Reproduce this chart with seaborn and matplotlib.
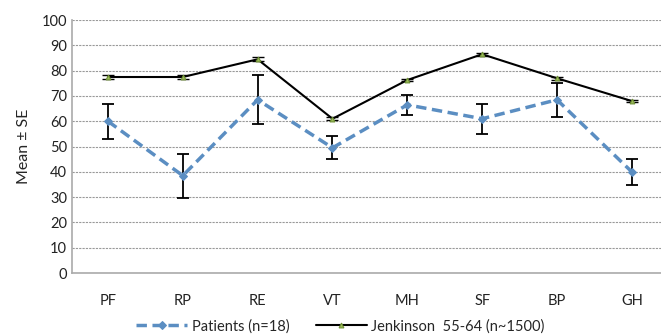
import numpy as np
import pandas as pd
import seaborn as sns
import matplotlib.pyplot as plt

# SF-36 domains
domains = ['PF', 'RP', 'RE', 'VT', 'MH', 'SF', 'BP', 'GH']

# Patients (n=18): mean and SE
patients_mean = [60, 38.5, 68.5, 49.5, 66.5, 61, 68.5, 40]
patients_se = [7, 8.7, 9.7, 4.5, 4, 6, 6.8, 5.2]

# Jenkinson norms 55-64
jenk_mean = [77.5, 77.5, 84.5, 61, 76.3, 86.5, 77, 68]
jenk_se = [0.6, 0.8, 0.8, 0.6, 0.5, 0.6, 0.6, 0.5]

df = pd.DataFrame({
    'Domain': domains * 2,
    'Mean': patients_mean + jenk_mean,
    'Group': ['Patients (n=18)'] * 8 + ['Jenkinson  55-64 (n~1500)'] * 8,
})
df['x'] = np.tile(np.arange(len(domains)), 2)

sns.set_style('white')
plt.rcParams['font.family'] = ['Lato', 'DejaVu Sans']

fig = plt.figure(figsize=(6.61, 3.35), dpi=100)
ax = fig.add_axes([0.109, 0.185, 0.891, 0.755])

blue = '#5B8EC2'
x = np.arange(len(domains))

# error bars first
ax.errorbar(x, patients_mean, yerr=patients_se, fmt='none', ecolor='black',
            elinewidth=1.3, capsize=4, capthick=1.3, zorder=2)
ax.errorbar(x, jenk_mean, yerr=jenk_se, fmt='none', ecolor='black',
            elinewidth=1.0, capsize=4, capthick=1.0, zorder=2)

sns.lineplot(data=df[df['Group'] == 'Patients (n=18)'], x='x', y='Mean', ax=ax,
             color=blue, linewidth=2.5, linestyle=(0, (3, 1.6)), marker='D',
             markersize=4.5, markeredgecolor=blue, label='Patients (n=18)', zorder=3)
sns.lineplot(data=df[df['Group'] != 'Patients (n=18)'], x='x', y='Mean', ax=ax,
             color='black', linewidth=1.5, marker='^', markersize=3.5,
             markerfacecolor='#9BBB59', markeredgecolor='#6E8F35',
             label='Jenkinson  55-64 (n~1500)', zorder=3)

ax.set_xlim(-0.48, 7.39)
ax.set_ylim(0, 100)
ax.set_yticks(range(0, 101, 10))
ax.set_xticks(x)
ax.set_xticklabels(domains)
ax.tick_params(axis='both', length=0, labelsize=10.5, colors='#222222')
ax.tick_params(axis='x', pad=15)
ax.set_xlabel('')
ax.set_ylabel('Mean ± SE', fontsize=11.5, labelpad=8)
ax.yaxis.grid(True, linestyle=(0, (2, 1)), color='#999999', linewidth=0.8)
for s in ['top', 'right']:
    ax.spines[s].set_visible(False)
for s in ['left', 'bottom']:
    ax.spines[s].set_color('#AAAAAA')
    ax.spines[s].set_linewidth(1.2)

handles, labels = ax.get_legend_handles_labels()
ax.get_legend().remove()
fig.legend(handles, labels, loc='lower center', bbox_to_anchor=(0.515, -0.035), ncol=2,
           frameon=False, fontsize=10.5, handlelength=3.5, columnspacing=1.8,
           handletextpad=0.3)

fig.savefig('out.png', dpi=100)
